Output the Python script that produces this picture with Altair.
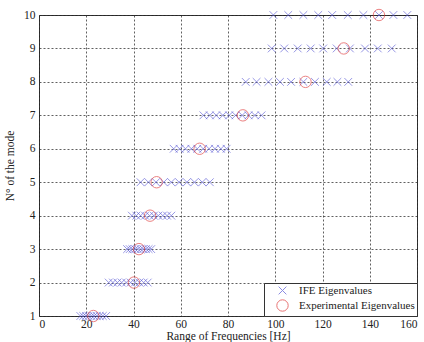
import altair as alt
import pandas as pd

modes = [1, 2, 3, 4, 5, 6, 7, 8, 9, 10]
ife_freqs = [
    [17.5, 18.7, 19.9, 21.0, 22.2, 23.3, 24.5, 25.7, 27.0, 28.4],
    [29.5, 31.3, 33.2, 35.0, 36.9, 38.8, 40.6, 42.5, 44.3, 46.0],
    [37.3, 38.4, 39.5, 40.7, 41.8, 43.0, 44.1, 45.3, 46.4, 47.5],
    [39.3, 41.2, 43.0, 44.9, 46.8, 48.6, 50.5, 52.4, 54.2, 56.0],
    [43.0, 46.3, 49.5, 52.8, 56.0, 59.3, 62.6, 65.8, 69.1, 72.3],
    [57.0, 59.5, 62.0, 64.5, 67.0, 69.5, 72.0, 74.5, 77.0, 79.4],
    [69.6, 72.3, 75.0, 77.8, 80.5, 83.2, 86.0, 88.7, 91.4, 94.2],
    [87.5, 92.1, 97.1, 102.0, 106.7, 111.9, 116.8, 121.8, 126.3, 130.9],
    [98.5, 103.8, 109.5, 115.0, 120.3, 126.0, 131.6, 138.0, 143.4, 149.3],
    [99.2, 105.5, 111.9, 118.2, 124.1, 130.7, 137.3, 143.9, 150.0, 155.9],
]
exp_freqs = [23.0, 40.2, 42.3, 47.0, 49.8, 68.0, 86.3, 112.8, 129.0, 143.9]

series = ["IFE Eigenvalues", "Experimental Eigenvalues"]

rows = []
for m, fl in zip(modes, ife_freqs):
    for f in fl:
        rows.append({"freq": f, "mode": m, "series": series[0]})
for m, f in zip(modes, exp_freqs):
    rows.append({"freq": f, "mode": m, "series": series[1]})
df = pd.DataFrame(rows)

cross = "M-1,-1L1,1M-1,1L1,-1"
serif = "Liberation Serif, Times New Roman, DejaVu Serif, serif"

chart = alt.Chart(df).mark_point(filled=False, strokeWidth=0.9, size=100).encode(
    x=alt.X("freq:Q", scale=alt.Scale(domain=[0, 160], nice=False),
            axis=alt.Axis(values=[0, 20, 40, 60, 80, 100, 120, 140, 160],
                          title="Range of Frequencies [Hz]", titlePadding=1,
                          labelPadding=2)),
    y=alt.Y("mode:Q", scale=alt.Scale(domain=[1, 10], nice=False, zero=False),
            axis=alt.Axis(values=modes, title="N° of the mode", titlePadding=8,
                          labelPadding=4)),
    color=alt.Color("series:N", scale=alt.Scale(domain=series, range=["#5b5bd6", "#e03a3a"]),
                    legend=alt.Legend(title=None, orient="bottom-right", offset=0)),
    shape=alt.Shape("series:N", scale=alt.Scale(domain=series, range=[cross, "circle"]),
                    legend=alt.Legend(title=None, orient="bottom-right", offset=0)),
    size=alt.Size("series:N", scale=alt.Scale(domain=series, range=[60, 130]), legend=None),
).properties(
    width=378, height=301,
    autosize=alt.AutoSizeParams(type="none"),
    padding={"left": 39, "top": 15, "right": 7, "bottom": 26},
).configure_view(
    stroke="#333333", strokeWidth=1
).configure_axis(
    grid=True, gridColor="#222222", gridDash=[2, 2], gridWidth=0.8, gridOpacity=0.9,
    domain=False, ticks=False,
    labelFont=serif, labelFontSize=11.5, labelColor="#222222",
    titleFont=serif, titleFontSize=11.5, titleFontWeight="normal", titleColor="#222222",
).configure_legend(
    labelFont=serif, labelFontSize=11, labelColor="#222222",
    strokeColor="#333333", fillColor="white", padding=2, rowPadding=0,
    cornerRadius=0, symbolStrokeWidth=1, symbolSize=80, labelOffset=10,
    symbolOffset=10,
)

chart.save("out.html", embed_options={"renderer": "svg", "actions": False})
